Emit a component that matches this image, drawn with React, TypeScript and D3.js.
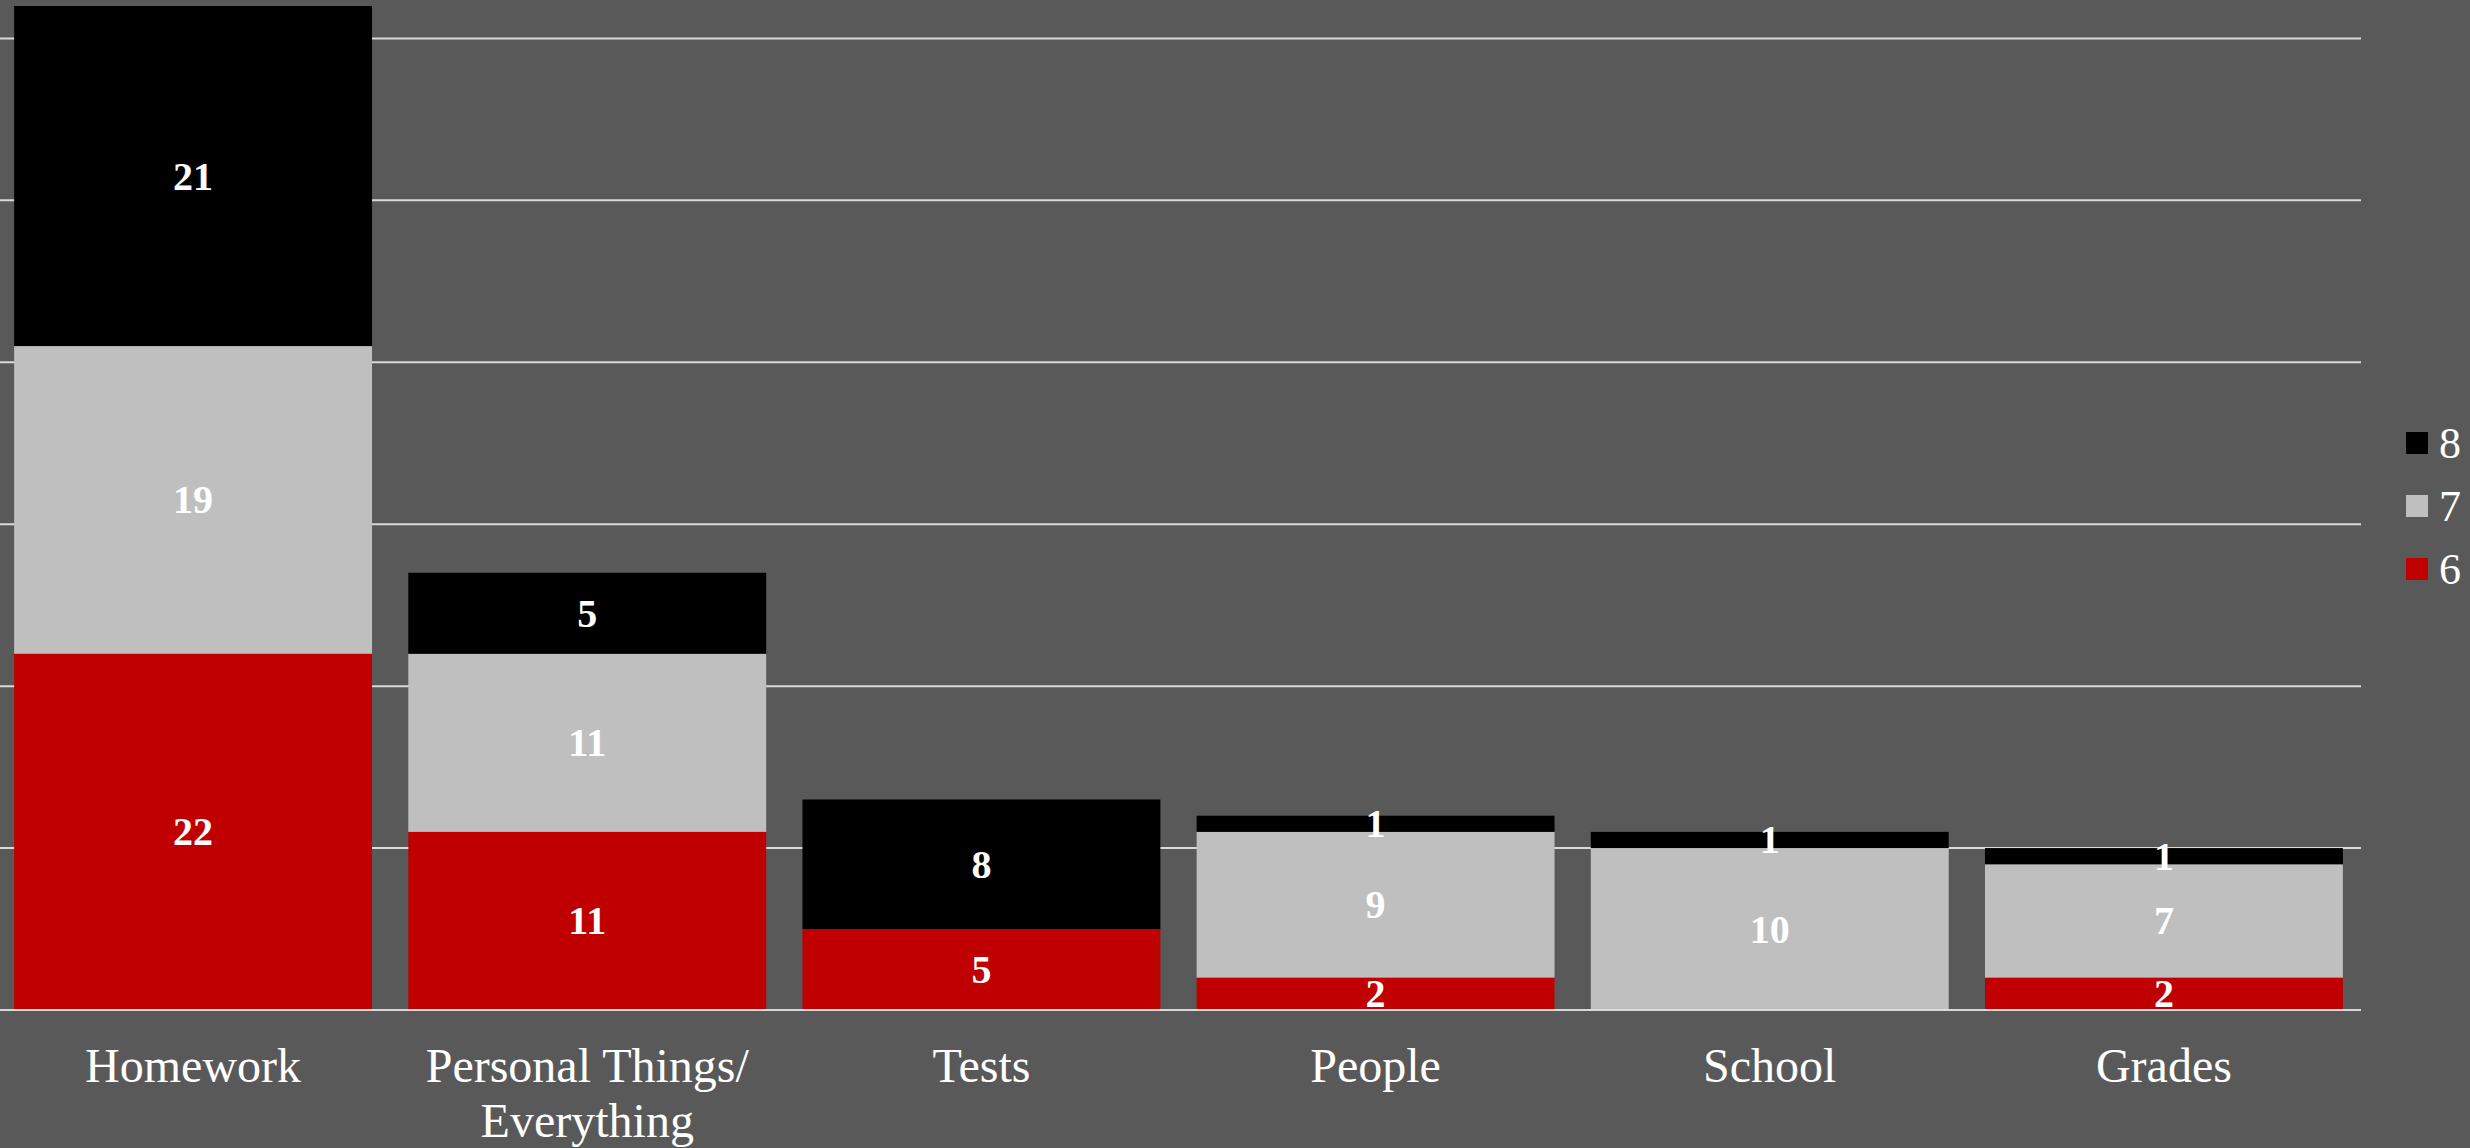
import React from "react";
import * as d3 from "d3";

const categories = ["Homework", "Personal Things/\nEverything", "Tests", "People", "School", "Grades"];
const seriesKeys = ["6", "7", "8"];
const values6 = [22, 11, 5, 2, 0, 2];
const values7 = [19, 11, 0, 9, 10, 7];
const values8 = [21, 5, 8, 1, 1, 1];
const seriesColors = ["#C00000", "#BFBFBF", "#000000"];
const yTicks = [0, 10, 20, 30, 40, 50, 60];

const W = 2470;
const H = 1148;
const FONT = "'Liberation Serif', 'Times New Roman', serif";

export default function App() {
  const rows = categories.map((c, i) => ({ cat: c, "6": values6[i], "7": values7[i], "8": values8[i] }));
  const stack = d3.stack<any>().keys(seriesKeys)(rows);

  const x = d3.scaleBand<string>().domain(categories).range([-4, 2361]).paddingInner(0.092).paddingOuter(0.046);
  const y = d3.scaleLinear().domain([0, 62]).range([1010, 6]);

  return (
    <svg width={W} height={H} style={{ position: "absolute", left: 0, top: 0, background: "#595959" }}>
      <rect x={0} y={0} width={W} height={H} fill="#595959" />
      {yTicks.map((t) => (
        <line key={t} x1={0} x2={2361} y1={y(t)} y2={y(t)} stroke="#D9D9D9" strokeWidth={2} />
      ))}
      {stack.map((s, si) => (
        <g key={s.key}>
          {s.map((d, i) => {
            const v = d[1] - d[0];
            if (v <= 0) return null;
            return (
              <rect key={i} x={x(categories[i])!} width={x.bandwidth()} y={y(d[1])} height={y(d[0]) - y(d[1])} fill={seriesColors[si]} />
            );
          })}
        </g>
      ))}
      <line x1={0} x2={2361} y1={y(0)} y2={y(0)} stroke="#D9D9D9" strokeWidth={2} />
      {stack.map((s, si) => (
        <g key={"l" + s.key}>
          {s.map((d, i) => {
            const v = d[1] - d[0];
            if (v <= 0) return null;
            return (
              <text key={i} x={x(categories[i])! + x.bandwidth() / 2} y={(y(d[0]) + y(d[1])) / 2} textAnchor="middle" dominantBaseline="central" fill="#FFFFFF" fontWeight="bold" fontSize={40} fontFamily={FONT}>
                {v}
              </text>
            );
          })}
        </g>
      ))}
      {categories.map((c) => {
        const lines = c.split("\n");
        return (
          <text key={c} textAnchor="middle" fill="#FFFFFF" fontSize={48} fontFamily={FONT}>
            {lines.map((ln, li) => (
              <tspan key={li} x={x(c)! + x.bandwidth() / 2} y={1082 + li * 55}>{ln}</tspan>
            ))}
          </text>
        );
      })}
      {[2, 1, 0].map((si, k) => (
        <g key={"leg" + si} transform={`translate(2406, ${432 + k * 63})`}>
          <rect x={0} y={0} width={22} height={22} fill={seriesColors[si]} />
          <text x={33} y={11} dominantBaseline="central" fill="#FFFFFF" fontSize={44} fontFamily={FONT}>{seriesKeys[si]}</text>
        </g>
      ))}
    </svg>
  );
}
